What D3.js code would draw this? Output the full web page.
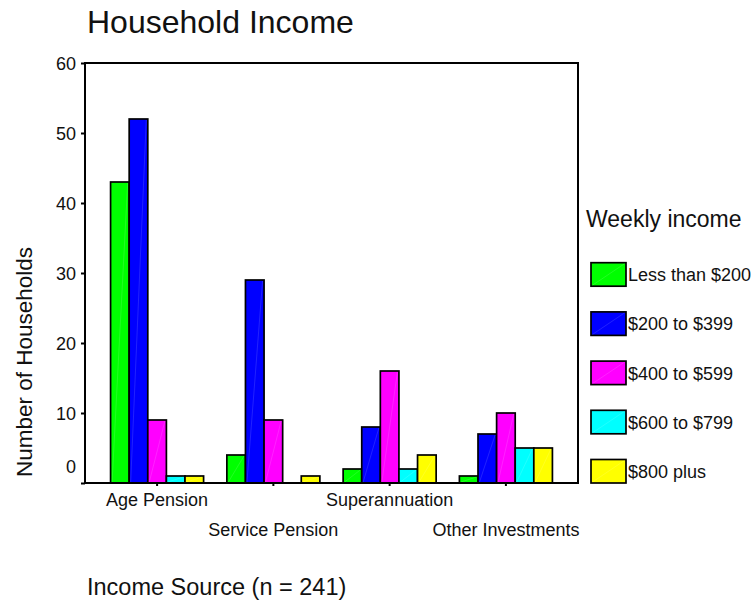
<!DOCTYPE html>
<html>
<head>
<meta charset="utf-8">
<script src="https://cdn.jsdelivr.net/npm/d3@7"></script>
<style>
  html, body { margin: 0; padding: 0; background: #fff; }
  svg { display: block; font-family: "Liberation Sans", Arial, sans-serif; }
</style>
</head>
<body>
<svg id="chart" width="756" height="600"></svg>
<script>
const categories = ["Age Pension", "Service Pension", "Superannuation", "Other Investments"];
const seriesNames = ["Less than $200", "$200 to $399", "$400 to $599", "$600 to $799", "$800 plus"];
const lessThan200 = [43, 4, 2, 1];
const from200to399 = [52, 29, 8, 7];
const from400to599 = [9, 9, 16, 10];
const from600to799 = [1, 0, 2, 5];
const plus800 = [1, 1, 4, 5];
const yTicks = [0, 10, 20, 30, 40, 50, 60];
const seriesColors = ["#00ff00", "#0000ff", "#ff00ff", "#00ffff", "#ffff00"];

const seriesValues = [lessThan200, from200to399, from400to599, from600to799, plus800];

const svg = d3.select("#chart");
const L = 85, R = 578, T = 63, B = 483;

const x = d3.scaleBand().domain(categories).range([L, R]).paddingInner(0.2).paddingOuter(0.22);
const xs = d3.scaleBand().domain(seriesNames).range([0, x.bandwidth()]);
const y = d3.scaleLinear().domain([0, 60]).range([B, T]);

// Bars
const rows = [];
categories.forEach((c, ci) => {
  seriesNames.forEach((s, si) => {
    rows.push({ cat: c, ser: s, si, v: seriesValues[si][ci] });
  });
});

const gBars = svg.append("g");
gBars.selectAll("rect").data(rows).join("rect")
  .attr("x", d => x(d.cat) + xs(d.ser))
  .attr("y", d => y(d.v))
  .attr("width", xs.bandwidth())
  .attr("height", d => B - y(d.v))
  .attr("fill", d => seriesColors[d.si])
  .attr("stroke", "#000")
  .attr("stroke-width", 1.7);

// faint diagonal artifacts
gBars.selectAll("line.diag").data(rows.filter(d => d.v > 0)).join("line")
  .attr("class", "diag")
  .attr("x1", d => x(d.cat) + xs(d.ser) + 1.5)
  .attr("y1", B - 1)
  .attr("x2", d => x(d.cat) + xs(d.ser) + xs.bandwidth() - 1.5)
  .attr("y2", d => y(d.v) + 1)
  .attr("stroke", "#fff")
  .attr("stroke-opacity", 0.22)
  .attr("stroke-width", 0.6);

// Frame
svg.append("rect")
  .attr("x", L).attr("y", T)
  .attr("width", R - L).attr("height", B - T)
  .attr("fill", "none").attr("stroke", "#000").attr("stroke-width", 2);

// Y axis
const yAxis = d3.axisLeft(y).tickValues(yTicks).tickSize(4).tickPadding(5).tickSizeOuter(0);
const gy = svg.append("g").attr("transform", `translate(${L},0)`).call(yAxis);
gy.select(".domain").remove();
gy.selectAll(".tick line").attr("stroke", "#000").attr("stroke-width", 2);
gy.selectAll(".tick text")
  .attr("font-size", 18)
  .attr("fill", "#111")
  .attr("font-family", "Liberation Sans, Arial, sans-serif")
  .attr("dy", d => d === 0 ? "-0.6em" : "0.35em");

// X axis
const xAxis = d3.axisBottom(x).tickSize(3).tickFormat("").tickSizeOuter(0);
const gx = svg.append("g").attr("transform", `translate(0,${B})`).call(xAxis);
gx.select(".domain").remove();
gx.selectAll(".tick line").attr("stroke", "#000").attr("stroke-width", 2);

svg.append("g").selectAll("text").data(categories).join("text")
  .attr("x", d => x(d) + x.bandwidth() / 2)
  .attr("y", (d, i) => i % 2 === 0 ? 506 : 536)
  .attr("text-anchor", "middle")
  .attr("font-size", 18)
  .attr("fill", "#111")
  .text(d => d);

// Titles
svg.append("text").attr("x", 87).attr("y", 33)
  .attr("font-size", 32).attr("fill", "#111").text("Household Income");

svg.append("text")
  .attr("transform", "translate(32,362) rotate(-90)")
  .attr("text-anchor", "middle")
  .attr("font-size", 22.5).attr("fill", "#111").text("Number of Households");

svg.append("text").attr("x", 87).attr("y", 595)
  .attr("font-size", 23.5).attr("fill", "#111").text("Income Source (n = 241)");

// Legend
svg.append("text").attr("x", 586).attr("y", 227)
  .attr("font-size", 23).attr("fill", "#111").text("Weekly income");

const lg = svg.append("g").selectAll("g").data(seriesNames).join("g")
  .attr("transform", (d, i) => `translate(591,${262.7 + i * 49.2})`);
lg.append("rect")
  .attr("width", 35).attr("height", 23.5)
  .attr("fill", (d, i) => seriesColors[i])
  .attr("stroke", "#000").attr("stroke-width", 1.7);
lg.append("line")
  .attr("x1", 1.5).attr("y1", 22.5).attr("x2", 33.5).attr("y2", 1)
  .attr("stroke", "#fff").attr("stroke-opacity", 0.22).attr("stroke-width", 0.6);
lg.append("text")
  .attr("x", 37).attr("y", 18.5)
  .attr("font-size", 18).attr("fill", "#111")
  .text(d => d);
</script>
</body>
</html>
